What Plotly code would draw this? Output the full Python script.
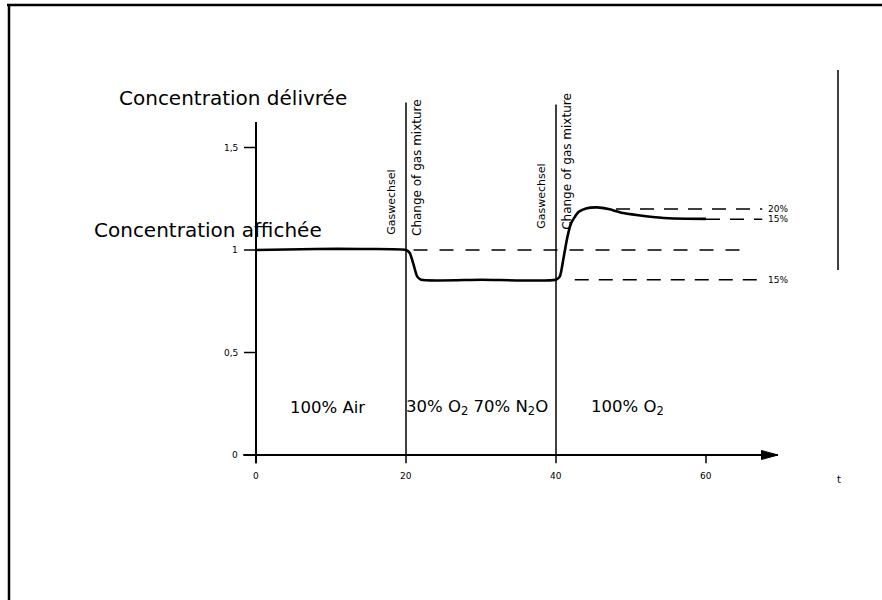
import plotly.graph_objects as go

# ---- data ----
time_min = [0, 8, 14, 20, 20.5, 21, 21.5, 22, 30, 40, 40.5, 41, 41.5, 42, 43, 44, 45.5, 47, 49, 52, 55, 60]
conc = [1.0, 1.005, 1.005, 1.0, 0.985, 0.93, 0.87, 0.855, 0.855, 0.855, 0.87, 0.96, 1.06, 1.13, 1.185, 1.203, 1.208, 1.2, 1.18, 1.165, 1.155, 1.152]

x_ticks = [0, 20, 40, 60]
x_tick_labels = ["0", "20", "40", "60"]
y_ticks = [0, 0.5, 1, 1.5]
y_tick_labels = ["0", "0,5", "1", "1,5"]

gas_change_times = [20, 40]
phase_centers = [9.5, 29.5, 49.5]
phase_labels = ["100% Air", "30% O<sub>2</sub> 70% N<sub>2</sub>O", "100% O<sub>2</sub>"]

ref_levels = [1.20, 1.15, 0.855]
ref_starts = [48, 60, 42.5]
ref_labels = ["20%", "15%", "15%"]
ref_end = 67.5

set_level = 1.0
set_line_span = [21, 64.5]

x_axis_end = 69.6
y_axis_top = 1.625

FONT = "DejaVu Sans"

fig = go.Figure()

# main delivered concentration curve
fig.add_trace(go.Scatter(x=time_min, y=conc, mode="lines",
                         line=dict(color="black", width=2.6, shape="spline", smoothing=0.6),
                         hoverinfo="skip", showlegend=False))

# displayed-concentration dashed line (1.0)
fig.add_trace(go.Scatter(x=set_line_span, y=[set_level, set_level], mode="lines",
                         line=dict(color="black", width=1.5, dash="14px,12px"),
                         hoverinfo="skip", showlegend=False))

# reference dashed lines with % labels
for lvl, x0, lab in zip(ref_levels, ref_starts, ref_labels):
    fig.add_trace(go.Scatter(x=[x0, ref_end], y=[lvl, lvl], mode="lines",
                             line=dict(color="black", width=1.5, dash="14px,10px"),
                             hoverinfo="skip", showlegend=False))
    fig.add_annotation(x=ref_end, y=lvl, text=lab, showarrow=False, xanchor="left", yanchor="middle",
                       xshift=4, font=dict(family=FONT, size=9, color="black"))

shapes = []
# axes
shapes.append(dict(type="line", x0=-1.7, x1=x_axis_end, y0=0, y1=0, line=dict(color="black", width=2)))
shapes.append(dict(type="line", x0=0, x1=0, y0=-0.04, y1=y_axis_top, line=dict(color="black", width=2)))
# arrow head on x axis
shapes.append(dict(type="path", path=f"M {x_axis_end-2.2},0.022 L {x_axis_end},0 L {x_axis_end-2.2},-0.022 Z",
                   fillcolor="black", line=dict(color="black", width=1)))
# x ticks
for t in x_ticks:
    shapes.append(dict(type="line", x0=t, x1=t, y0=0, y1=-0.04, line=dict(color="black", width=1.5)))
# y ticks
for t in y_ticks:
    shapes.append(dict(type="line", x0=-1.6, x1=0, y0=t, y1=t, line=dict(color="black", width=1.5)))
# gas change vertical lines
for g, top in zip(gas_change_times, [1.72, 1.71]):
    shapes.append(dict(type="line", x0=g, x1=g, y0=0, y1=top, line=dict(color="black", width=1.5)))
# frame
shapes.append(dict(type="line", xref="paper", yref="paper", x0=7/882, x1=1, y0=1-5/600, y1=1-5/600,
                   line=dict(color="black", width=2.5)))
shapes.append(dict(type="line", xref="paper", yref="paper", x0=9/882, x1=9/882, y0=0, y1=1-5/600,
                   line=dict(color="black", width=2.5)))
# right vertical bar
shapes.append(dict(type="line", xref="paper", yref="paper", x0=838/882, x1=838/882, y0=1-70/600, y1=1-270/600,
                   line=dict(color="black", width=1.5)))

# tick labels
for t, lab in zip(x_ticks, x_tick_labels):
    fig.add_annotation(x=t, y=0, yshift=-21, text=lab, showarrow=False, xanchor="center", yanchor="middle",
                       font=dict(family=FONT, size=9, color="black"))
for t, lab in zip(y_ticks, y_tick_labels):
    fig.add_annotation(x=-1.6, y=t, xshift=-4, text=lab, showarrow=False, xanchor="right", yanchor="middle",
                       font=dict(family=FONT, size=9, color="black"))

fig.add_annotation(xref="paper", yref="paper", x=839/882, y=1-479/600, text="t", showarrow=False,
                   xanchor="center", yanchor="middle", font=dict(family=FONT, size=10, color="black"))

# phase labels
for c, lab in zip(phase_centers, phase_labels):
    fig.add_annotation(x=c, y=0.23, text=lab, showarrow=False, xanchor="center", yanchor="middle",
                       font=dict(family=FONT, size=16.5, color="black"))

# axis titles
fig.add_annotation(xref="paper", yref="paper", x=233/882, y=1-98/600, text="Concentration délivrée",
                   showarrow=False, xanchor="center", yanchor="middle",
                   font=dict(family=FONT, size=20, color="black"))
fig.add_annotation(xref="paper", yref="paper", x=208/882, y=1-230/600, text="Concentration affichée",
                   showarrow=False, xanchor="center", yanchor="middle",
                   font=dict(family=FONT, size=20, color="black"))

# rotated gas change labels
for g, yc in zip(gas_change_times, [1.23, 1.26]):
    fig.add_annotation(x=g, y=yc, xshift=-14, text="Gaswechsel", textangle=-90, showarrow=False,
                       xanchor="center", yanchor="middle",
                       font=dict(family=FONT, size=11, color="black"))
for g, yc in zip(gas_change_times, [1.40, 1.43]):
    fig.add_annotation(x=g, y=yc, xshift=11, text="Change of gas mixture", textangle=-90, showarrow=False,
                       xanchor="center", yanchor="middle",
                       font=dict(family=FONT, size=12, color="black"))

fig.update_layout(
    width=882, height=600,
    margin=dict(l=0, r=0, t=0, b=0),
    paper_bgcolor="white", plot_bgcolor="white",
    xaxis=dict(range=[-256/7.5, 626/7.5], visible=False, fixedrange=True),
    yaxis=dict(range=[-145/205, 455/205], visible=False, fixedrange=True),
    shapes=shapes,
    showlegend=False,
)

fig.write_html("out.html", config={"displayModeBar": False},
               post_script="document.body.style.margin='0px';")
